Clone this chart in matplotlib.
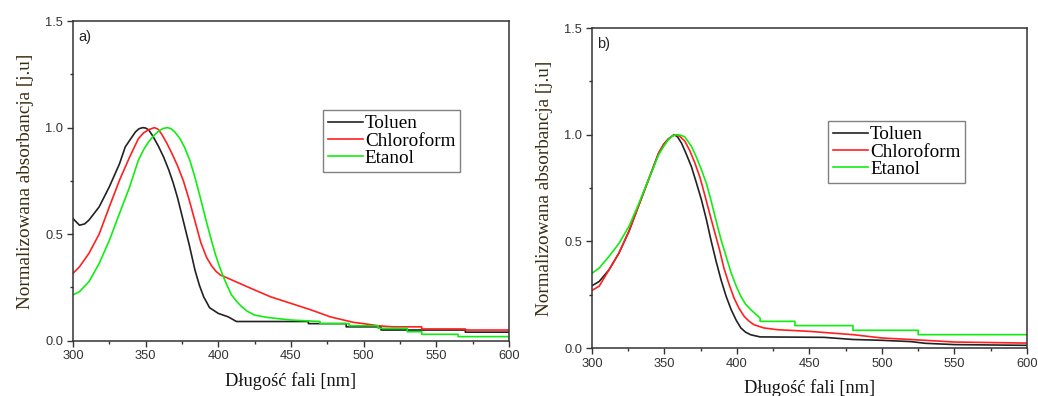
import matplotlib.pyplot as plt
from matplotlib.ticker import MultipleLocator

# panel a)
a_tol_x = [300, 304.5, 308, 311, 318, 325, 332, 336, 340, 343, 345.5, 348, 350, 352, 355, 359,
           362.5, 366, 369, 372, 376, 380, 384, 387, 390, 394, 400, 406.8, 412.5, 462,
           462, 488, 488, 512, 512, 570, 570, 600]
a_tol_y = [0.573, 0.542, 0.548, 0.566, 0.628, 0.722, 0.83, 0.91, 0.95, 0.98, 0.995, 1.0, 0.998,
           0.99, 0.96, 0.91, 0.86, 0.80, 0.74, 0.67, 0.56, 0.45, 0.33, 0.26, 0.205, 0.155,
           0.128, 0.112, 0.09, 0.09, 0.08, 0.08, 0.065, 0.065, 0.05, 0.05, 0.04, 0.04]
a_chl_x = [300, 304.5, 311, 318, 325, 332, 339, 345, 348.5, 352, 356, 358.5, 361, 364.5, 368,
           372, 376, 380, 384, 388, 392, 395.5, 398.5, 401.5, 406, 411, 425, 436, 450,
           464, 477, 493, 500, 510, 520, 540, 540, 570, 570, 600]
a_chl_y = [0.316, 0.347, 0.41, 0.50, 0.628, 0.753, 0.862, 0.948, 0.975, 0.99, 1.0, 0.993, 0.97,
           0.928, 0.88, 0.82, 0.75, 0.66, 0.56, 0.46, 0.39, 0.35, 0.325, 0.308, 0.295,
           0.28, 0.238, 0.206, 0.175, 0.144, 0.112, 0.086, 0.08, 0.07, 0.065, 0.065, 0.055,
           0.055, 0.05, 0.05]
a_eta_x = [300, 304.5, 311, 318, 325, 332, 339, 345, 348.5, 352, 355.5, 359, 362, 365, 367.5,
           370, 373.5, 377, 380.5, 384, 387.5, 391, 394.5, 398, 401.5, 405, 409, 412.5, 416, 420,
           425, 433, 439, 450, 470, 470, 490, 490, 510, 510, 530, 530, 540, 540, 565, 565, 600]
a_eta_y = [0.215, 0.23, 0.277, 0.362, 0.47, 0.597, 0.722, 0.847, 0.895, 0.933, 0.962, 0.984,
           0.996, 1.0, 0.995, 0.98, 0.95, 0.905, 0.845, 0.765, 0.675, 0.58, 0.49, 0.405, 0.335,
           0.275, 0.216, 0.185, 0.16, 0.138, 0.12, 0.11, 0.105, 0.097, 0.09, 0.08, 0.08, 0.07,
           0.07, 0.058, 0.058, 0.042, 0.042, 0.03, 0.03, 0.019, 0.019]

# panel b)
b_tol_x = [300, 305, 311.8, 318.6, 325.5, 332, 339, 346, 349.5, 352.7, 356.6, 359, 361.8, 365,
           368.6, 372, 375.5, 379, 382, 385.5, 389, 392.5, 396, 399.5, 402.7, 406, 409.5, 416,
           460, 470, 480, 500, 520, 530, 550, 600]
b_tol_y = [0.292, 0.312, 0.367, 0.445, 0.547, 0.664, 0.789, 0.914, 0.955, 0.98, 1.0, 0.99,
           0.96, 0.91, 0.85, 0.775, 0.695, 0.60, 0.508, 0.41, 0.32, 0.243, 0.18, 0.13, 0.094,
           0.074, 0.062, 0.052, 0.05, 0.045, 0.04, 0.036, 0.03, 0.022, 0.016, 0.0125]
b_chl_x = [300, 305, 311.8, 318.6, 325.5, 332, 339, 346, 349.5, 352.7, 357, 360.5, 364, 367.5,
           371, 374.5, 377.7, 381, 384.5, 388, 391, 394.5, 398, 401.5, 405, 408.5, 411.8, 418.6,
           427.7, 450, 480, 500, 530, 550, 600]
b_chl_y = [0.27, 0.29, 0.367, 0.445, 0.547, 0.664, 0.789, 0.914, 0.955, 0.98, 1.0, 0.993, 0.97,
           0.925, 0.867, 0.80, 0.72, 0.635, 0.547, 0.46, 0.375, 0.30, 0.234, 0.185, 0.148, 0.125,
           0.109, 0.094, 0.086, 0.078, 0.0625, 0.047, 0.036, 0.028, 0.023]
b_eta_x = [300, 305, 311.8, 318.6, 325.5, 332, 339, 346, 349.5, 352.7, 355.5, 358, 361, 364,
           368.6, 372, 375.5, 379, 382, 385.5, 389, 392.5, 396, 399.5, 402.7, 406, 409.5, 416,
           416, 440, 440, 480, 480, 525, 525, 600]
b_eta_y = [0.35, 0.375, 0.43, 0.49, 0.57, 0.672, 0.789, 0.906, 0.945, 0.977, 0.994, 1.0, 0.998,
           0.99, 0.945, 0.895, 0.836, 0.77, 0.695, 0.60, 0.508, 0.43, 0.352, 0.29, 0.242, 0.205,
           0.18, 0.14, 0.125, 0.125, 0.105, 0.105, 0.083, 0.083, 0.0625, 0.0625]

names = ['Toluen', 'Chloroform', 'Etanol']
colors = ['#222222', '#ff2020', '#10ee10']
panels = [
    ('a)', [(a_tol_x, a_tol_y), (a_chl_x, a_chl_y), (a_eta_x, a_eta_y)]),
    ('b)', [(b_tol_x, b_tol_y), (b_chl_x, b_chl_y), (b_eta_x, b_eta_y)]),
]
axes_pos = [[0.0703, 0.1397, 0.420, 0.807], [0.5703, 0.1212, 0.419, 0.808]]
legend_pos = [(0.573, 0.528), (0.5425, 0.516)]

serif = ['Liberation Serif', 'DejaVu Serif']
sans = ['Liberation Sans', 'DejaVu Sans']

fig = plt.figure(figsize=(10.38, 3.96), dpi=100)

for (tag, series), pos, lpos in zip(panels, axes_pos, legend_pos):
    ax = fig.add_axes(pos)
    for (x, y), name, c in zip(series, names, colors):
        ax.plot(x, y, color=c, lw=1.2, label=name)
    ax.set_xlim(300, 600)
    ax.set_ylim(0, 1.5)
    ax.xaxis.set_major_locator(MultipleLocator(50))
    ax.xaxis.set_minor_locator(MultipleLocator(25))
    ax.yaxis.set_major_locator(MultipleLocator(0.5))
    ax.yaxis.set_minor_locator(MultipleLocator(0.25))
    ax.tick_params(which='major', direction='out', length=4, width=1, colors='#333333',
                   labelsize=9.3, pad=3)
    ax.tick_params(which='minor', direction='out', length=2.5, width=1, colors='#333333')
    for lab in ax.get_xticklabels() + ax.get_yticklabels():
        lab.set_family(sans)
    for s in ax.spines.values():
        s.set_linewidth(1.1)
        s.set_color('#333333')
    ax.set_xlabel('Długość fali [nm]', family=serif, fontsize=13.2, color='#111111', labelpad=7)
    ax.set_ylabel('Normalizowana absorbancja [j.u]', family=serif, fontsize=13.8,
                  color='#3a2c10', labelpad=8)
    ax.text(0.012, 0.972, tag, transform=ax.transAxes, ha='left', va='top',
            family=sans, fontsize=10.5, color='#222222')
    leg = ax.legend(loc='lower left', bbox_to_anchor=lpos, fancybox=False, framealpha=1,
                    edgecolor='#808080', handlelength=1.85, handletextpad=0.1,
                    labelspacing=0.0, borderpad=0.25, borderaxespad=0,
                    prop={'family': serif, 'size': 13.8})
    leg.get_frame().set_linewidth(1.0)

fig.savefig('out.png', dpi=100)
